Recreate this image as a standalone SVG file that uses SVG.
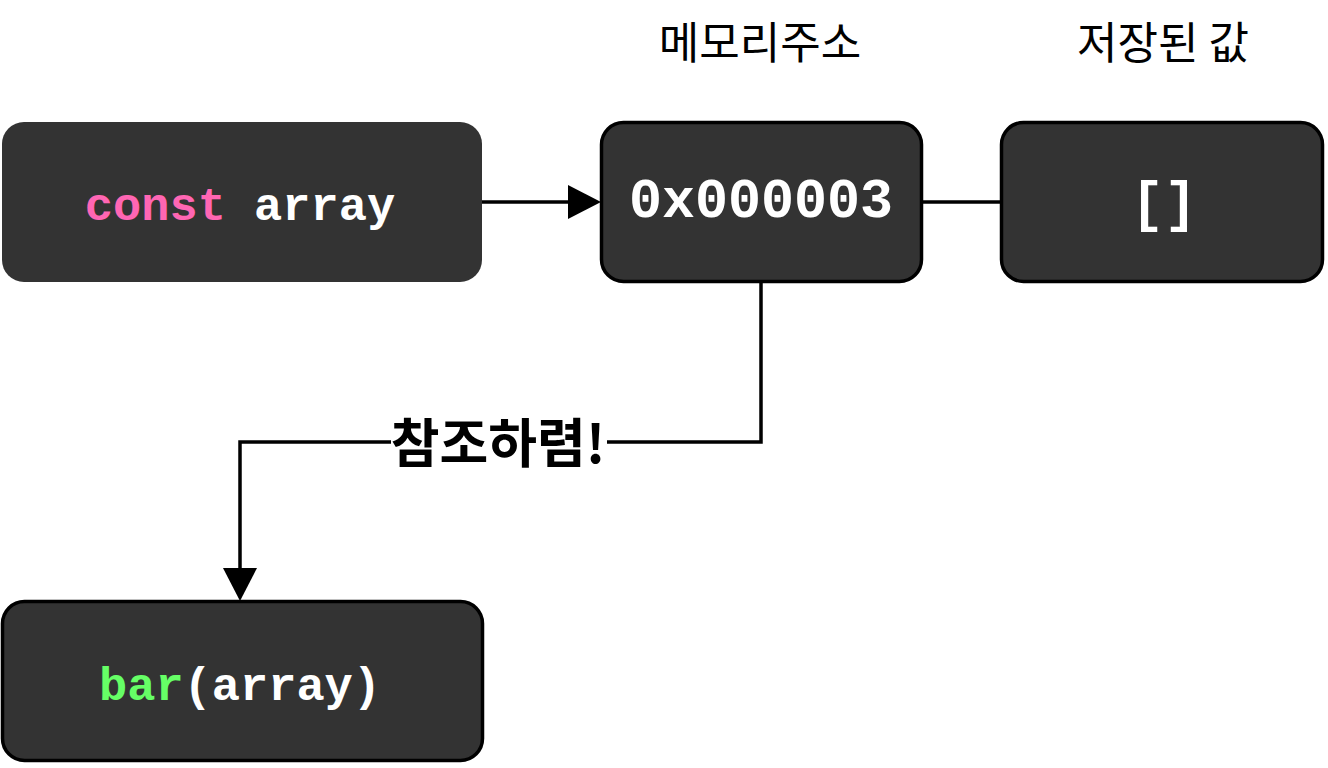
<svg xmlns="http://www.w3.org/2000/svg" width="1328" height="768" viewBox="0 0 1328 768">
<defs>
<style>
.box{fill:#333333;stroke:#000;stroke-width:3.5}
.code{font-family:"Liberation Mono","Courier New",monospace;font-weight:bold;fill:#fff;text-anchor:middle}
.kr{font-family:"Noto Sans CJK KR",sans-serif;fill:#000;text-anchor:middle}
.edge{fill:none;stroke:#000;stroke-width:3.5}
</style>
</defs>
<rect width="1328" height="768" fill="#fff"/>
<text class="kr" x="760" y="59" font-size="44">메모리주소</text>
<text class="kr" x="1163" y="59" font-size="44">저장된 값</text>
<g id="connectors">
<path class="edge" d="M482,202 L568,202"/>
<path d="M568,185 L601,202 L568,219 Z" fill="#000"/>
<path class="edge" d="M922,202 L1001,202"/>
<path class="edge" d="M761,282 L761,442 L240,442 L240,568"/>
<path d="M223,568 L240,601 L257,568 Z" fill="#000"/>
<rect x="391" y="416" width="216" height="54" fill="#fff"/>
<text class="kr" x="498" y="463" font-size="53" font-weight="bold">참조하렴!</text>
</g>
<g id="node-const">
<rect x="2" y="122" width="480" height="160" rx="22" fill="#333333"/>
<text class="code" x="240" y="220" font-size="47"><tspan fill="#FF66B3">const</tspan> array</text>
</g>
<g id="node-addr">
<rect class="box" x="601.5" y="122.5" width="320" height="159" rx="22"/>
<text class="code" x="761" y="217" font-size="55">0x000003</text>
</g>
<g id="node-value">
<rect class="box" x="1001.5" y="122.5" width="321" height="159" rx="22"/>
<text class="code" x="1164" y="220" font-size="55">[]</text>
</g>
<g id="node-bar">
<rect class="box" x="2.5" y="601.5" width="480" height="159" rx="22"/>
<text class="code" x="240" y="700" font-size="47"><tspan fill="#66FF66">bar</tspan>(array)</text>
</g>
</svg>
